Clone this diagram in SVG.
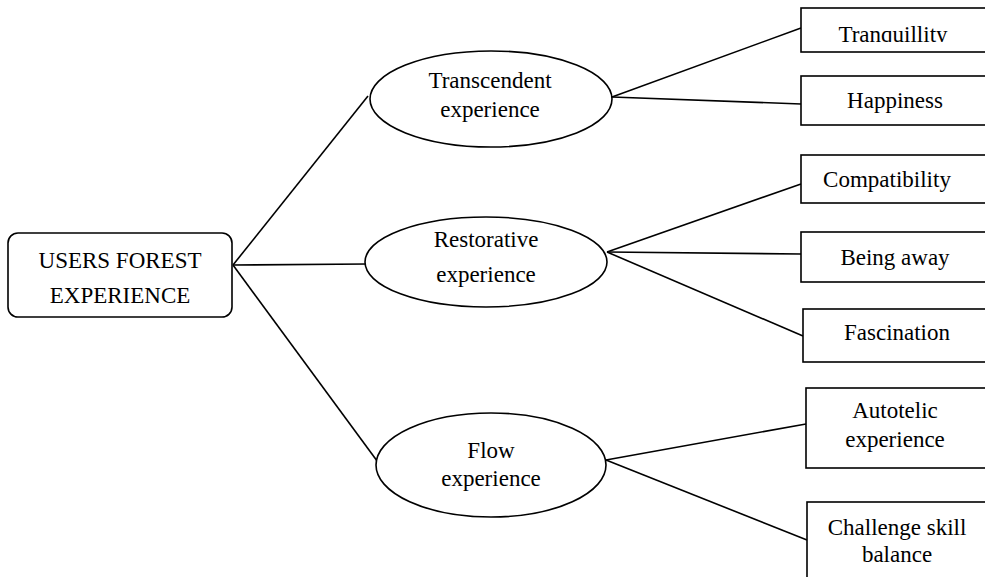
<svg xmlns="http://www.w3.org/2000/svg" width="985" height="577" viewBox="0 0 985 577">
<style>
.shape{fill:#fff;stroke:#000;stroke-width:1.6}
.t{font-family:'Liberation Serif','DejaVu Serif',serif;font-size:23px;fill:#000;text-anchor:middle}
.c line{stroke:#000;stroke-width:1.6}
</style>
<defs>
<clipPath id="clipTq"><rect x="801" y="8" width="200" height="34"/></clipPath>
</defs>
<rect width="985" height="577" fill="#fff"/>
<g class="c" id="connectors">
<line x1="233" y1="265" x2="368" y2="96"/>
<line x1="233" y1="265" x2="367" y2="264"/>
<line x1="233" y1="265" x2="383" y2="469"/>
<line x1="612" y1="97" x2="801" y2="28"/>
<line x1="612" y1="97" x2="801" y2="104"/>
<line x1="607" y1="252" x2="801" y2="184"/>
<line x1="607" y1="252" x2="801" y2="254"/>
<line x1="607" y1="252" x2="803" y2="336"/>
<line x1="606" y1="460" x2="806" y2="424"/>
<line x1="606" y1="460" x2="807" y2="540"/>
</g>
<g id="root">
<rect class="shape" x="8" y="233" width="224" height="84" rx="10"/>
<text class="t" x="120" y="268" font-family="Liberation Serif, serif">USERS FOREST</text>
<text class="t" x="120" y="303" font-family="Liberation Serif, serif">EXPERIENCE</text>
</g>
<g id="transcendent">
<ellipse class="shape" cx="491" cy="99" rx="121" ry="48"/>
<text class="t" x="490" y="88">Transcendent</text>
<text class="t" x="490" y="117">experience</text>
</g>
<g id="restorative">
<ellipse class="shape" cx="486" cy="262" rx="121" ry="45"/>
<text class="t" x="486" y="247">Restorative</text>
<text class="t" x="486" y="282">experience</text>
</g>
<g id="flow">
<ellipse class="shape" cx="491" cy="465" rx="115" ry="52"/>
<text class="t" x="491" y="458">Flow</text>
<text class="t" x="491" y="486">experience</text>
</g>
<g id="tranquillity">
<rect class="shape" x="801" y="8" width="200" height="44"/>
<text class="t" x="893" y="42" clip-path="url(#clipTq)">Tranquillity</text>
</g>
<g id="happiness">
<rect class="shape" x="801" y="76" width="200" height="49"/>
<text class="t" x="895" y="108">Happiness</text>
</g>
<g id="compatibility">
<rect class="shape" x="801" y="155" width="200" height="48"/>
<text class="t" x="887" y="187">Compatibility</text>
</g>
<g id="being-away">
<rect class="shape" x="801" y="232" width="200" height="50"/>
<text class="t" x="895" y="265">Being away</text>
</g>
<g id="fascination">
<rect class="shape" x="803" y="309" width="200" height="53"/>
<text class="t" x="897" y="340">Fascination</text>
</g>
<g id="autotelic">
<rect class="shape" x="806" y="388" width="200" height="80"/>
<text class="t" x="895" y="418">Autotelic</text>
<text class="t" x="895" y="447">experience</text>
</g>
<g id="challenge">
<rect class="shape" x="807" y="502" width="200" height="100"/>
<text class="t" x="897" y="535">Challenge skill</text>
<text class="t" x="897" y="562">balance</text>
</g>
</svg>
